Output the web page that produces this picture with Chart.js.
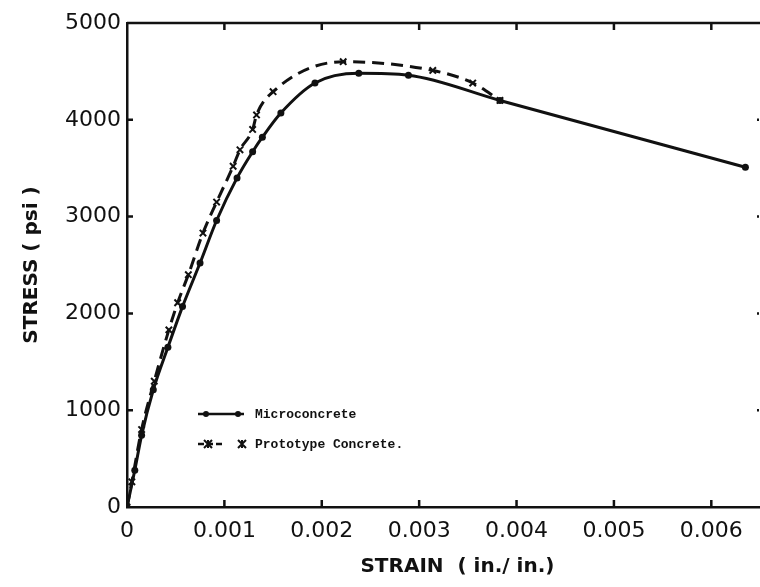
<!DOCTYPE html>
<html>
<head>
<meta charset="utf-8">
<script src="https://cdn.jsdelivr.net/npm/chart.js@4.4.0/dist/chart.umd.min.js"></script>
<style>
  html, body { margin: 0; padding: 0; background: #fff; }
  #wrap { width: 760px; height: 587px; }
</style>
</head>
<body>
<div id="wrap"><canvas id="stress-chart" width="760" height="587"></canvas></div>
<script>
// Stress-strain data
const microStrain = [0, 0.00008, 0.00015, 0.00027, 0.00042, 0.00057, 0.00075, 0.00092, 0.00113, 0.00129, 0.00139, 0.00158, 0.00193, 0.00238, 0.00289, 0.00383, 0.00635];
const microStress = [0, 380, 740, 1210, 1650, 2070, 2520, 2960, 3400, 3670, 3820, 4070, 4380, 4480, 4460, 4200, 3510];

const protoStrain = [0, 0.00005, 0.00015, 0.00028, 0.00043, 0.00052, 0.00063, 0.00078, 0.00092, 0.00109, 0.00116, 0.00129, 0.00133, 0.0015, 0.00222, 0.00314, 0.00355, 0.00383];
const protoStress = [0, 260, 800, 1300, 1830, 2110, 2400, 2830, 3150, 3520, 3690, 3900, 4050, 4290, 4600, 4510, 4380, 4200];

// Axis ticks
const xTickValues = [0, 0.001, 0.002, 0.003, 0.004, 0.005, 0.006];
const xTickLabels = ['0', '0.001', '0.002', '0.003', '0.004', '0.005', '0.006'];
const yTickValues = [0, 1000, 2000, 3000, 4000, 5000];
const yTickLabels = ['0', '1000', '2000', '3000', '4000', '5000'];

const seriesNames = ['Microconcrete', 'Prototype Concrete.'];

const INK = '#111';
const FONT = '"DejaVu Sans", sans-serif';

const toPoints = (xs, ys) => xs.map((x, i) => ({ x: x, y: ys[i] }));

/**
 * Frame: top border plus inward tick marks on every side
 */
const frameTicks = {
    id: 'frameTicks',
    afterDraw(chart) {
        const { ctx, chartArea: a, scales } = chart;
        ctx.save();
        ctx.strokeStyle = INK;
        ctx.lineWidth = 2.5;
        ctx.beginPath();
        ctx.moveTo(a.left, a.top);
        ctx.lineTo(a.right, a.top);
        scales.x.ticks.forEach(t => {
            if (t.value === 0) return;
            const px = scales.x.getPixelForValue(t.value);
            ctx.moveTo(px, a.bottom);
            ctx.lineTo(px, a.bottom - 7);
            ctx.moveTo(px, a.top);
            ctx.lineTo(px, a.top + 7);
        });
        scales.y.ticks.forEach(t => {
            if (t.value === 0 || t.value === 5000) return;
            const py = scales.y.getPixelForValue(t.value);
            ctx.moveTo(a.left, py);
            ctx.lineTo(a.left + 6, py);
            ctx.moveTo(a.right - 1, py);
            ctx.lineTo(a.right - 3, py);
        });
        ctx.stroke();
        ctx.restore();
    }
};

/**
 * Small legend inside the plot, typewriter style
 */
const innerLegend = {
    id: 'innerLegend',
    afterDraw(chart) {
        const { ctx, chartArea: a } = chart;
        const x0 = a.left + 71;
        const y0 = a.top + 391;
        const y1 = a.top + 421;
        ctx.save();
        ctx.strokeStyle = INK;
        ctx.fillStyle = INK;
        ctx.lineWidth = 2.5;

        // Microconcrete sample
        ctx.beginPath();
        ctx.moveTo(x0, y0);
        ctx.lineTo(x0 + 46, y0);
        ctx.stroke();
        [x0 + 8, x0 + 40].forEach(px => {
            ctx.beginPath();
            ctx.arc(px, y0, 3, 0, Math.PI * 2);
            ctx.fill();
        });

        // Prototype sample
        ctx.setLineDash([6, 3]);
        ctx.beginPath();
        ctx.moveTo(x0, y1);
        ctx.lineTo(x0 + 24, y1);
        ctx.stroke();
        ctx.setLineDash([]);
        ctx.lineWidth = 2;
        [x0 + 10, x0 + 44].forEach(px => {
            ctx.beginPath();
            ctx.moveTo(px - 4, y1 - 4); ctx.lineTo(px + 4, y1 + 4);
            ctx.moveTo(px + 4, y1 - 4); ctx.lineTo(px - 4, y1 + 4);
            ctx.moveTo(px, y1 - 4); ctx.lineTo(px, y1 + 4);
            ctx.stroke();
        });

        ctx.font = 'bold 13px "Liberation Mono", monospace';
        ctx.textBaseline = 'middle';
        ctx.fillText(seriesNames[0], x0 + 57, y0 + 1);
        ctx.fillText(seriesNames[1], x0 + 57, y1 + 1);
        ctx.restore();
    }
};

const ctx = document.getElementById('stress-chart').getContext('2d');

new Chart(ctx, {
    type: 'line',
    data: {
        datasets: [{
            label: seriesNames[0],
            data: toPoints(microStrain, microStress),
            borderColor: INK,
            backgroundColor: INK,
            borderWidth: 3,
            pointStyle: 'circle',
            pointRadius: 3.5,
            pointBorderWidth: 0,
            cubicInterpolationMode: 'monotone',
            fill: false
        }, {
            label: seriesNames[1],
            data: toPoints(protoStrain, protoStress),
            borderColor: INK,
            backgroundColor: INK,
            borderWidth: 3,
            borderDash: [12, 7],
            pointStyle: 'crossRot',
            pointRadius: 4.5,
            pointBorderWidth: 2,
            cubicInterpolationMode: 'monotone',
            fill: false
        }]
    },
    options: {
        responsive: false,
        animation: false,
        layout: {
            autoPadding: false,
            padding: { top: 23, right: 0, left: 0, bottom: 0 }
        },
        scales: {
            x: {
                type: 'linear',
                min: 0,
                max: 0.0065,
                afterBuildTicks: scale => {
                    scale.ticks = xTickValues.map(v => ({ value: v }));
                },
                afterFit: scale => {
                    scale.height = 80;
                    scale.paddingLeft = 0;
                    scale.paddingRight = 0;
                },
                ticks: {
                    color: INK,
                    font: { family: FONT, size: 22 },
                    padding: 11,
                    maxRotation: 0,
                    autoSkip: false,
                    callback: (value, i) => xTickLabels[i]
                },
                grid: { display: true, drawOnChartArea: false, drawTicks: false },
                border: { display: true, color: INK, width: 2.5 },
                title: {
                    display: true,
                    text: '    STRAIN  ( in./ in.)',
                    color: INK,
                    font: { family: FONT, size: 20, weight: 'bold' },
                    padding: { top: 0, bottom: 8 }
                }
            },
            y: {
                type: 'linear',
                min: 0,
                max: 5000,
                afterBuildTicks: scale => {
                    scale.ticks = yTickValues.map(v => ({ value: v }));
                },
                afterFit: scale => { scale.width = 127; },
                ticks: {
                    color: INK,
                    font: { family: FONT, size: 22 },
                    padding: 6,
                    callback: (value, i) => yTickLabels[i]
                },
                grid: { display: true, drawOnChartArea: false, drawTicks: false },
                border: { display: true, color: INK, width: 2.5 },
                title: {
                    display: true,
                    text: 'STRESS ( psi )',
                    color: INK,
                    font: { family: FONT, size: 20, weight: 'bold' },
                    padding: { top: 20, bottom: 0 }
                }
            }
        },
        plugins: {
            legend: { display: false },
            tooltip: { enabled: false }
        }
    },
    plugins: [frameTicks, innerLegend]
});
</script>
</body>
</html>
